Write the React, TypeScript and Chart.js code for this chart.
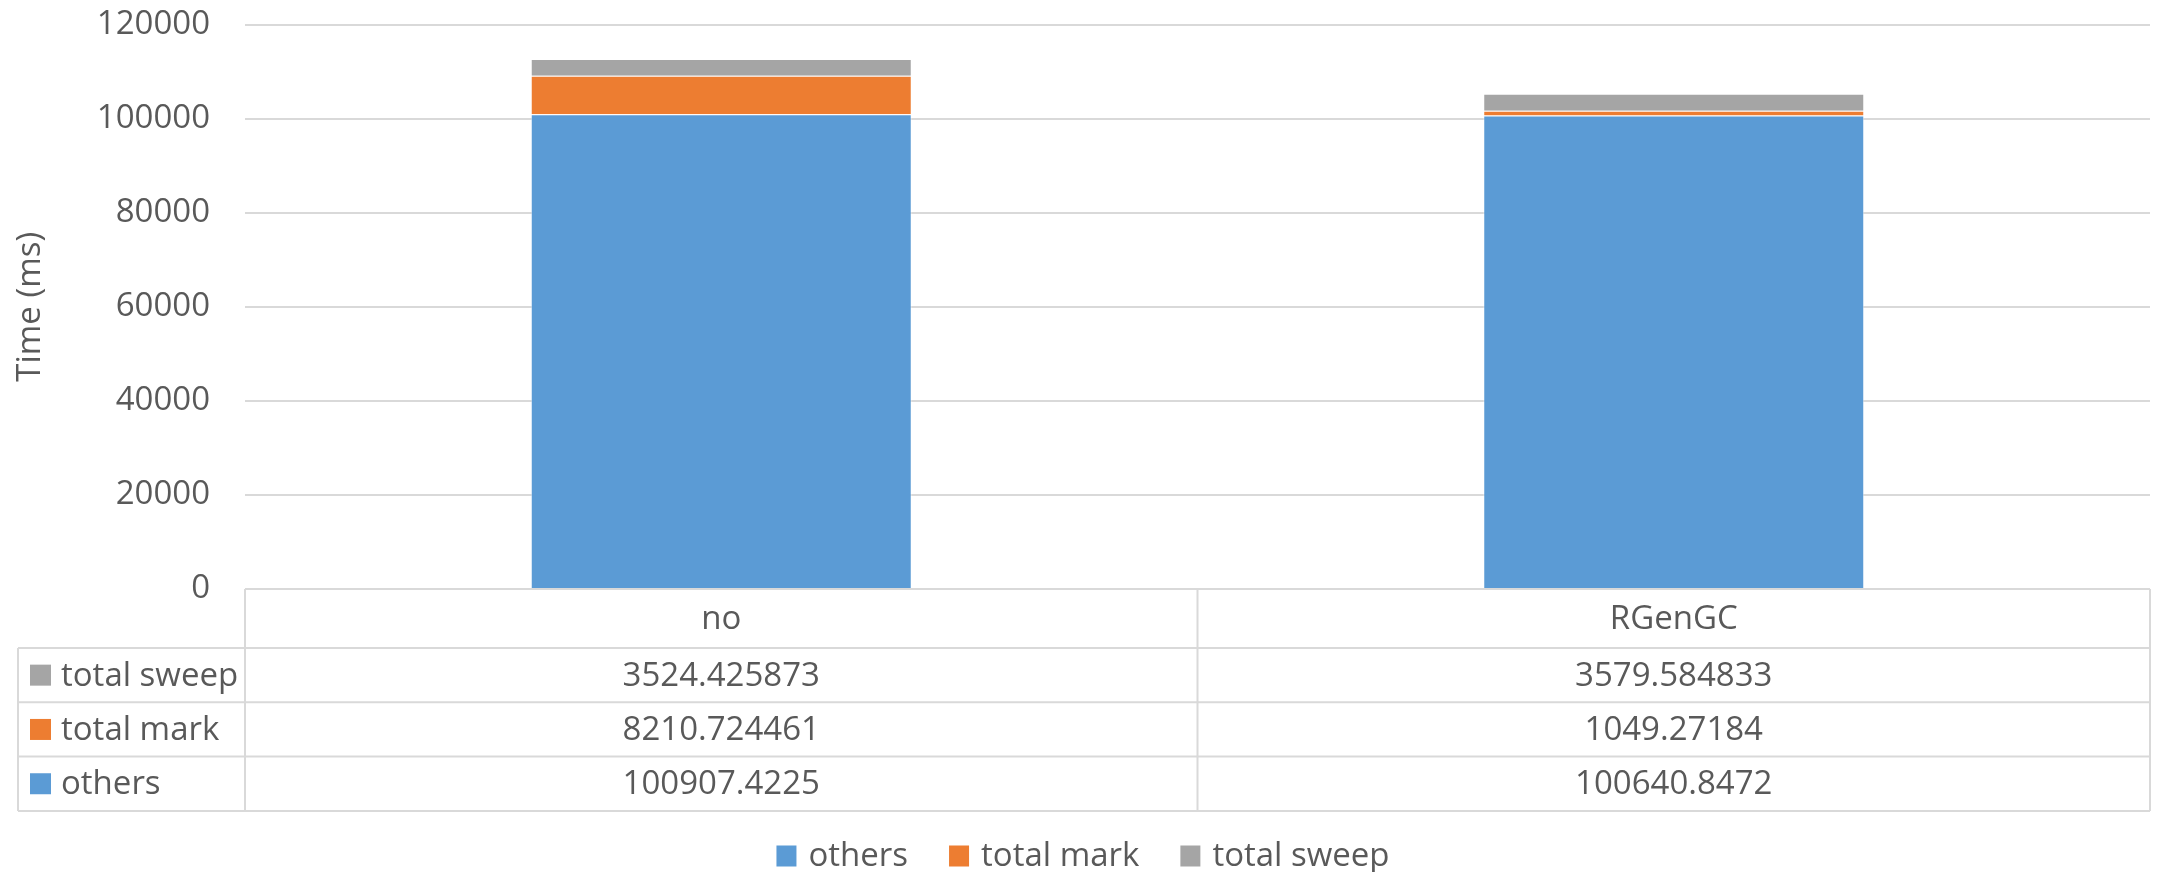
import React, { useEffect, useRef } from "react";
import { Chart, registerables } from "chart.js";

Chart.register(...registerables);

const categories = ["no", "RGenGC"];
const seriesNames = ["others", "total mark", "total sweep"];
const othersValues = [100907.4225, 100640.8472];
const markValues = [8210.724461, 1049.27184];
const sweepValues = [3524.425873, 3579.584833];
const seriesColors = ["#5B9BD5", "#ED7D31", "#A5A5A5"];
const yTicks = { min: 0, max: 120000, step: 20000 };
const axisTitle = "Time (ms)";

const FONT_FAMILY = "'Open Sans', sans-serif";
const FONT_SIZE = 33;
const TEXT_COLOR = "#595959";
const LINE_COLOR = "#D9D9D9";

const tablePlugin = {
  id: "dataTable",
  afterDraw(chart: any) {
    const ctx = chart.ctx as CanvasRenderingContext2D;
    const area = chart.chartArea;
    const xs = chart.scales.x;
    const left = area.left;
    const right = area.right;
    const top = area.bottom;
    const tableLeft = 18;
    const catRowH = 59;
    const rowH = 54.3;
    const rowsTop = top + catRowH;
    const seriesVals = [othersValues, markValues, sweepValues];
    const rowOrder = [2, 1, 0];
    const bottom = rowsTop + rowH * rowOrder.length;
    const centers = categories.map((_, i) => xs.getPixelForValue(i));
    const dividers: number[] = [];
    for (let i = 0; i < centers.length - 1; i++) dividers.push((centers[i] + centers[i + 1]) / 2);

    ctx.save();
    ctx.strokeStyle = LINE_COLOR;
    ctx.lineWidth = 2;
    ctx.beginPath();
    ctx.moveTo(left, top);
    ctx.lineTo(right, top);
    for (let r = 0; r <= rowOrder.length; r++) {
      const y = rowsTop + rowH * r;
      ctx.moveTo(tableLeft, y);
      ctx.lineTo(right, y);
    }
    ctx.moveTo(left, top);
    ctx.lineTo(left, bottom);
    ctx.moveTo(right, top);
    ctx.lineTo(right, bottom);
    ctx.moveTo(tableLeft, rowsTop);
    ctx.lineTo(tableLeft, bottom);
    dividers.forEach((d) => {
      ctx.moveTo(d, top);
      ctx.lineTo(d, bottom);
    });
    ctx.stroke();

    ctx.fillStyle = TEXT_COLOR;
    ctx.font = `${FONT_SIZE}px ${FONT_FAMILY}`;
    ctx.textBaseline = "middle";
    ctx.textAlign = "center";
    categories.forEach((c, i) => {
      ctx.fillText(c, centers[i], top + catRowH / 2 + 1);
    });
    rowOrder.forEach((s, r) => {
      const cy = rowsTop + rowH * r + rowH / 2;
      ctx.fillStyle = seriesColors[s];
      ctx.fillRect(30, cy - 10.5, 21, 21);
      ctx.fillStyle = TEXT_COLOR;
      ctx.textAlign = "left";
      ctx.fillText(seriesNames[s], 61, cy + 1);
      ctx.textAlign = "center";
      seriesVals[s].forEach((v, i) => {
        ctx.fillText(String(v), centers[i], cy + 1);
      });
    });

    const legendY = 856;
    const boxW = 20;
    const gapText = 12;
    const gapItem = 41;
    const widths = seriesNames.map((n) => ctx.measureText(n).width);
    const total = widths.reduce((a, w) => a + boxW + gapText + w, 0) + gapItem * (seriesNames.length - 1);
    let x = 1083 - total / 2;
    ctx.textAlign = "left";
    seriesNames.forEach((n, i) => {
      ctx.fillStyle = seriesColors[i];
      ctx.fillRect(x, legendY - 10.5, boxW, 21);
      x += boxW + gapText;
      ctx.fillStyle = TEXT_COLOR;
      ctx.fillText(n, x, legendY + 1);
      x += widths[i] + gapItem;
    });
    ctx.restore();
  },
};

export default function App() {
  const ref = useRef<HTMLCanvasElement | null>(null);
  useEffect(() => {
    const canvas = ref.current;
    if (!canvas) return;
    const values = [othersValues, markValues, sweepValues];
    const chart = new Chart(canvas, {
      type: "bar",
      data: {
        labels: categories,
        datasets: seriesNames.map((name, i) => ({
          label: name,
          data: values[i],
          backgroundColor: seriesColors[i],
          borderColor: "rgba(255,255,255,0.45)",
          borderWidth: 1,
          categoryPercentage: 0.4,
          barPercentage: 1,
        })),
      },
      options: {
        animation: false,
        responsive: false,
        devicePixelRatio: 1,
        layout: { padding: { top: 24.5, right: 8, bottom: 283, left: 0 } },
        plugins: {
          legend: { display: false },
          tooltip: { enabled: false },
        },
        scales: {
          x: {
            stacked: true,
            display: false,
          },
          y: {
            stacked: true,
            min: yTicks.min,
            max: yTicks.max,
            afterFit(scale: any) {
              scale.width = 245;
              scale.paddingTop = 0;
              scale.paddingBottom = 0;
            },
            border: { display: false },
            grid: { color: LINE_COLOR, lineWidth: 2, drawTicks: false },
            ticks: {
              stepSize: yTicks.step,
              padding: 35,
              color: TEXT_COLOR,
              font: { family: FONT_FAMILY, size: FONT_SIZE },
              callback: (v: any) => String(v),
            },
            title: {
              display: true,
              text: axisTitle,
              color: TEXT_COLOR,
              font: { family: FONT_FAMILY, size: FONT_SIZE },
              padding: { top: 11, bottom: 0 },
            },
          },
        },
      },
      plugins: [tablePlugin],
    });
    return () => chart.destroy();
  }, []);
  return (
    <div style={{ position: "absolute", left: 0, top: 0, width: 2158, height: 872, background: "#fff" }}>
      <canvas ref={ref} width={2158} height={872} />
    </div>
  );
}
